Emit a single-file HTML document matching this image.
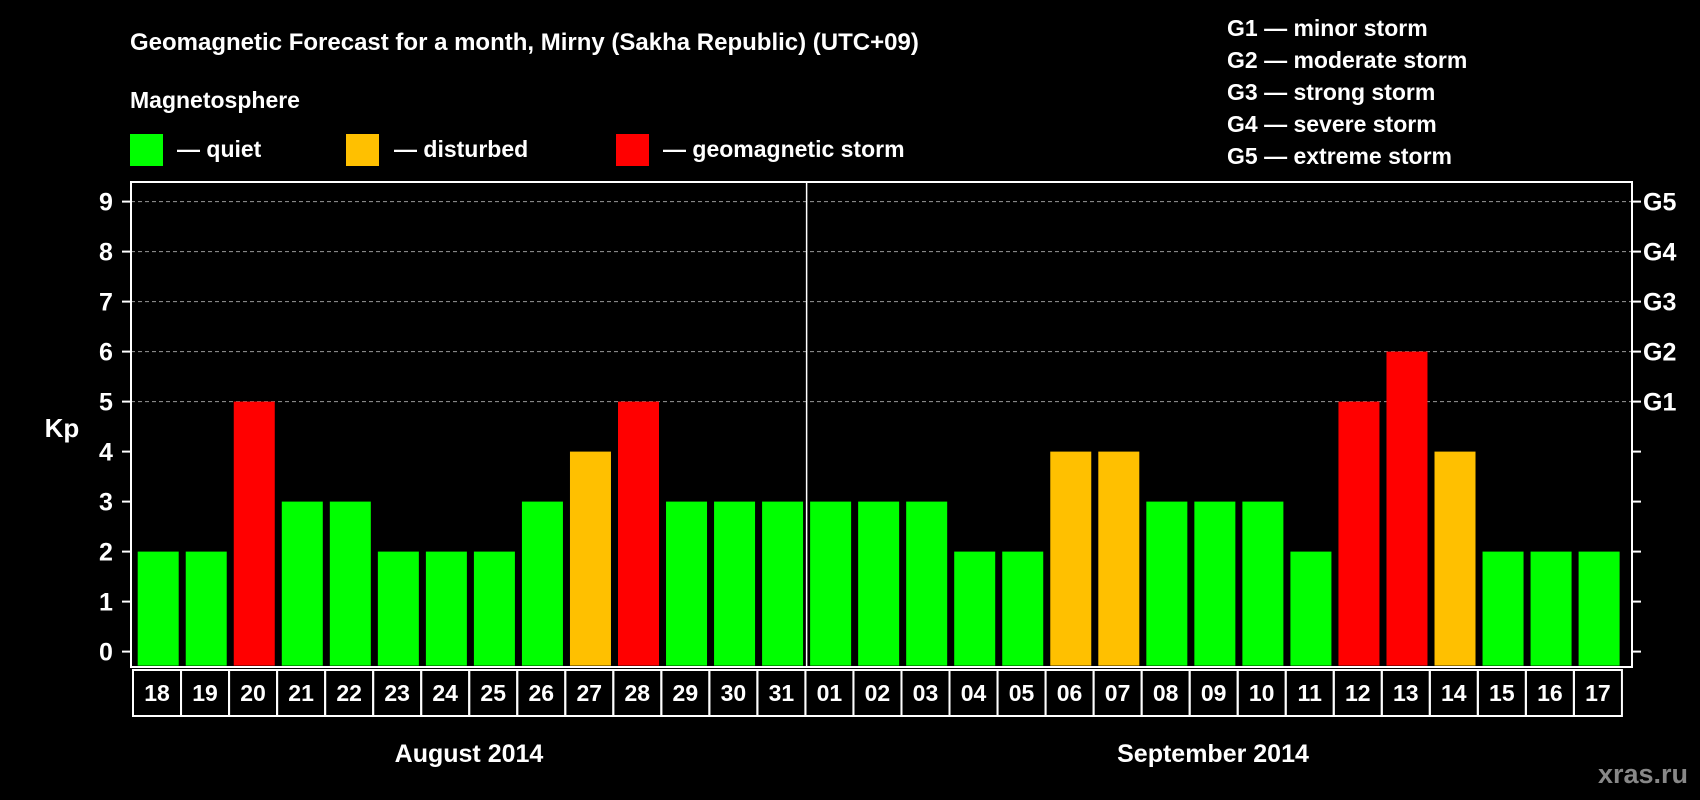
<!DOCTYPE html>
<html><head><meta charset="utf-8"><style>
html,body{margin:0;padding:0;background:#000;}
svg{display:block;font-family:"Liberation Sans",Arial,sans-serif;font-weight:bold;}
</style></head><body>
<svg id="chart" width="1700" height="800" viewBox="0 0 1700 800">
<rect width="1700" height="800" fill="#000"/>
<text x="130" y="50" fill="#fff" font-size="24">Geomagnetic Forecast for a month, Mirny (Sakha Republic) (UTC+09)</text>
<text x="130" y="108" fill="#fff" font-size="23">Magnetosphere</text>
<g><rect x="130" y="134" width="33" height="32" fill="#00ff00"/><text x="177" y="157" fill="#fff" font-size="23">— quiet</text></g>
<g><rect x="346" y="134" width="33" height="32" fill="#ffc000"/><text x="394" y="157" fill="#fff" font-size="23">— disturbed</text></g>
<g><rect x="616" y="134" width="33" height="32" fill="#ff0000"/><text x="663" y="157" fill="#fff" font-size="23">— geomagnetic storm</text></g>
<g fill="#fff" font-size="23">
<text x="1227" y="36">G1 — minor storm</text>
<text x="1227" y="68">G2 — moderate storm</text>
<text x="1227" y="100">G3 — strong storm</text>
<text x="1227" y="132">G4 — severe storm</text>
<text x="1227" y="164">G5 — extreme storm</text>
</g>
<text x="62" y="437" fill="#fff" font-size="26" text-anchor="middle">Kp</text>
<text x="469" y="762" fill="#fff" font-size="25" text-anchor="middle">August 2014</text>
<text x="1213" y="762" fill="#fff" font-size="25" text-anchor="middle">September 2014</text>
<text x="1688" y="783" fill="#888" font-size="27" text-anchor="end">xras.ru</text>
<g id="plot"></g>
</svg>
<script>
const days = ["18","19","20","21","22","23","24","25","26","27","28","29","30","31","01","02","03","04","05","06","07","08","09","10","11","12","13","14","15","16","17"];
const kp = [2,2,5,3,3,2,2,2,3,4,5,3,3,3,3,3,3,2,2,4,4,3,3,3,2,5,6,4,2,2,2];
const yTicks = ["0","1","2","3","4","5","6","7","8","9"];
const gLabels = ["G1","G2","G3","G4","G5"];
const monthSplitIndex = 14;

const NS = "http://www.w3.org/2000/svg";
const g = document.getElementById("plot");
const L = 131, R = 1632, T = 182, B = 667;
const x0 = 137.7, pitch = 48.03, bw = 41;
function y(v){ return 651.6 - 50 * v; }
function x(i){ return x0 + i * pitch; }
function mk(tag, attrs){ const e = document.createElementNS(NS, tag); for (const k in attrs) e.setAttribute(k, attrs[k]); g.appendChild(e); return e; }

// gridlines 5..9
for (let v = 5; v <= 9; v++) {
  const l = mk("line", {x1: L, x2: R, y1: y(v), y2: y(v), stroke: "#999", "stroke-width": 1, "stroke-dasharray": "4,3"});
  
  
}
// bars
kp.forEach((v, i) => {
  const c = v >= 5 ? "#ff0000" : (v >= 4 ? "#ffc000" : "#00ff00");
  const r = mk("rect", {x: x(i), y: y(v), width: bw, height: y(0) - y(v) + 14, fill: c});
  
  
});
// frame
const fr = mk("rect", {x: L, y: T, width: R - L, height: B - T, fill: "none", stroke: "#fff", "stroke-width": 2});


// divider
const dx = x(monthSplitIndex) - 3.5;
const dv = mk("line", {x1: dx, x2: dx, y1: T, y2: B, stroke: "#fff", "stroke-width": 1.5});


// y ticks
yTicks.forEach((t, i) => {
  const v = +t;
  mk("line", {x1: L - 9, x2: L, y1: y(v), y2: y(v), stroke: "#fff", "stroke-width": 2});
  mk("line", {x1: R, x2: R + 9, y1: y(v), y2: y(v), stroke: "#fff", "stroke-width": 2});
  const tx = mk("text", {x: 106, y: y(v) + 9, fill: "#fff", "font-size": 25, "text-anchor": "middle"});
  tx.textContent = t;
  
  
});
gLabels.forEach((t, i) => {
  const tx = mk("text", {x: 1643, y: y(i + 5) + 9, fill: "#fff", "font-size": 25});
  tx.textContent = t;
  
  
});
// day label cells
const cy = 670, ch = 46;
days.forEach((d, i) => {
  const cx = 133 + i * 48.03;
  const r = mk("rect", {x: cx, y: cy, width: 48.03, height: ch, fill: "none", stroke: "#fff", "stroke-width": 2});
  
  
  const tx = mk("text", {x: cx + 24, y: cy + 31, fill: "#fff", "font-size": 23, "text-anchor": "middle"});
  tx.textContent = d;
  
  
});
</script>
</body></html>
